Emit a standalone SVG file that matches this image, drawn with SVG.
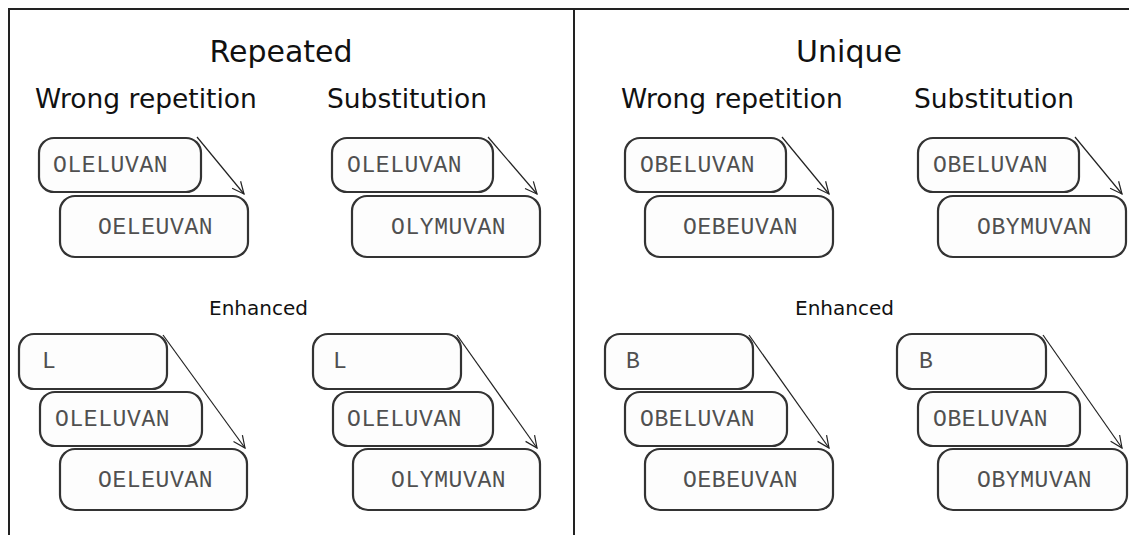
<svg xmlns="http://www.w3.org/2000/svg" width="1129" height="535" viewBox="0 0 1129 535">
  <defs>
    <marker id="open-arrow" viewBox="0 0 14 14" refX="13" refY="7" markerWidth="14" markerHeight="14" markerUnits="userSpaceOnUse" orient="auto">
      <path d="M1,1.5 L13,7 L1,12.5" fill="none" stroke="#222" stroke-width="1.2"/>
    </marker>
  </defs>
  <style>
    .frame { fill: none; stroke: #222; stroke-width: 2; }
    .box { fill: #fdfdfd; stroke: #333; stroke-width: 2.2; }
    .seq { font-family: "Liberation Mono", "Courier New", monospace; font-size: 23px; letter-spacing: 0.6px; fill: #505050; }
    .title { font-family: "DejaVu Sans", Verdana, sans-serif; font-size: 30px; fill: #111; text-anchor: middle; }
    .sub { font-family: "DejaVu Sans", Verdana, sans-serif; font-size: 26.5px; fill: #111; }
    .small { font-family: "DejaVu Sans", Verdana, sans-serif; font-size: 20px; fill: #111; text-anchor: middle; }
    .arrow { fill: none; stroke: #222; stroke-width: 1.2; marker-end: url(#open-arrow); }
  </style>

  <rect width="1129" height="535" fill="#ffffff"/>

  <!-- panel frame -->
  <g id="frame">
    <path class="frame" d="M9,535 L9,9 L1129,9"/>
    <path class="frame" d="M574,9 L574,535"/>
  </g>

  <!-- headings -->
  <g id="headings">
    <text class="title" x="281" y="62">Repeated</text>
    <text class="title" x="849" y="62">Unique</text>
    <text class="sub" x="35" y="108">Wrong repetition</text>
    <text class="sub" x="327" y="108">Substitution</text>
    <text class="sub" x="621" y="108">Wrong repetition</text>
    <text class="sub" x="914" y="108">Substitution</text>
    <text class="small" x="258.5" y="315">Enhanced</text>
    <text class="small" x="844.5" y="315">Enhanced</text>
  </g>

  <!-- Repeated / wrong repetition -->
  <g id="rep-wrong-src"><rect class="box" x="39" y="138" width="162" height="54" rx="15"/><text class="seq" x="53" y="172">OLELUVAN</text></g>
  <g id="rep-wrong-out"><rect class="box" x="60" y="196" width="188" height="61" rx="15"/><text class="seq" x="98" y="234">OELEUVAN</text></g>

  <!-- Repeated / substitution -->
  <g id="rep-sub-src"><rect class="box" x="332" y="138" width="161" height="54" rx="15"/><text class="seq" x="347" y="172">OLELUVAN</text></g>
  <g id="rep-sub-out"><rect class="box" x="352" y="196" width="188" height="61" rx="15"/><text class="seq" x="391" y="234">OLYMUVAN</text></g>

  <!-- Unique / wrong repetition -->
  <g id="uni-wrong-src"><rect class="box" x="625" y="138" width="161" height="54" rx="15"/><text class="seq" x="640" y="172">OBELUVAN</text></g>
  <g id="uni-wrong-out"><rect class="box" x="645" y="196" width="188" height="61" rx="15"/><text class="seq" x="683" y="234">OEBEUVAN</text></g>

  <!-- Unique / substitution -->
  <g id="uni-sub-src"><rect class="box" x="918" y="138" width="161" height="54" rx="15"/><text class="seq" x="933" y="172">OBELUVAN</text></g>
  <g id="uni-sub-out"><rect class="box" x="938" y="196" width="188" height="61" rx="15"/><text class="seq" x="977" y="234">OBYMUVAN</text></g>

  <!-- Repeated / enhanced wrong repetition -->
  <g id="rep-enh-wrong-tok"><rect class="box" x="19" y="334" width="148" height="55" rx="15"/><text class="seq" x="42" y="368">L</text></g>
  <g id="rep-enh-wrong-src"><rect class="box" x="40" y="392" width="162" height="54" rx="15"/><text class="seq" x="55" y="426">OLELUVAN</text></g>
  <g id="rep-enh-wrong-out"><rect class="box" x="60" y="449" width="187" height="61" rx="15"/><text class="seq" x="98" y="487">OELEUVAN</text></g>

  <!-- Repeated / enhanced substitution -->
  <g id="rep-enh-sub-tok"><rect class="box" x="313" y="334" width="148" height="55" rx="15"/><text class="seq" x="333" y="368">L</text></g>
  <g id="rep-enh-sub-src"><rect class="box" x="333" y="392" width="160" height="54" rx="15"/><text class="seq" x="347" y="426">OLELUVAN</text></g>
  <g id="rep-enh-sub-out"><rect class="box" x="353" y="449" width="187" height="61" rx="15"/><text class="seq" x="391" y="487">OLYMUVAN</text></g>

  <!-- Unique / enhanced wrong repetition -->
  <g id="uni-enh-wrong-tok"><rect class="box" x="605" y="334" width="148" height="55" rx="15"/><text class="seq" x="626" y="368">B</text></g>
  <g id="uni-enh-wrong-src"><rect class="box" x="625" y="392" width="162" height="54" rx="15"/><text class="seq" x="640" y="426">OBELUVAN</text></g>
  <g id="uni-enh-wrong-out"><rect class="box" x="645" y="449" width="188" height="61" rx="15"/><text class="seq" x="683" y="487">OEBEUVAN</text></g>

  <!-- Unique / enhanced substitution -->
  <g id="uni-enh-sub-tok"><rect class="box" x="897" y="334" width="149" height="55" rx="15"/><text class="seq" x="919" y="368">B</text></g>
  <g id="uni-enh-sub-src"><rect class="box" x="918" y="392" width="162" height="54" rx="15"/><text class="seq" x="933" y="426">OBELUVAN</text></g>
  <g id="uni-enh-sub-out"><rect class="box" x="938" y="449" width="189" height="61" rx="15"/><text class="seq" x="977" y="487">OBYMUVAN</text></g>

  <!-- connectors -->
  <g id="connectors">
    <line class="arrow" x1="197" y1="137" x2="244" y2="194"/>
    <line class="arrow" x1="488" y1="137" x2="537" y2="194"/>
    <line class="arrow" x1="782" y1="137" x2="829" y2="194"/>
    <line class="arrow" x1="1075" y1="137" x2="1122" y2="194"/>
    <line class="arrow" x1="163" y1="335" x2="245" y2="448"/>
    <line class="arrow" x1="457" y1="335" x2="537" y2="448"/>
    <line class="arrow" x1="749" y1="335" x2="829" y2="448"/>
    <line class="arrow" x1="1043" y1="335" x2="1122" y2="448"/>
  </g>
</svg>
